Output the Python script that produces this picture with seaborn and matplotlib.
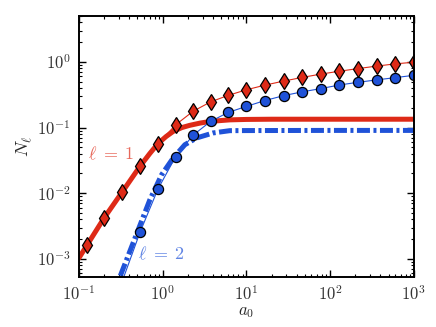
import numpy as np
import pandas as pd
import matplotlib
matplotlib.use("Agg")
import matplotlib.pyplot as plt
from matplotlib.ticker import FuncFormatter
import seaborn as sns

# marker data
a0_pts = [0.125, 0.2, 0.33, 0.54, 0.88, 1.43, 2.31, 3.74, 6.06, 10.0,
          16.7, 27.8, 46.4, 77.4, 129, 215, 359, 599, 1000]
n1_pts = [1.64e-3, 4.23e-3, 1.05e-2, 2.60e-2, 5.68e-2, 0.110, 0.177, 0.246,
          0.309, 0.376, 0.443, 0.510, 0.580, 0.652, 0.721, 0.791, 0.863,
          0.933, 0.99]
a0_pts2 = a0_pts[2:]
n2_pts = [4.6e-4, 2.59e-3, 1.16e-2, 3.60e-2, 0.0766, 0.124, 0.170, 0.210,
          0.258, 0.306, 0.350, 0.392, 0.445, 0.489, 0.532, 0.576, 0.625]

# thick curves
a0_l1 = [0.1, 0.125, 0.2, 0.33, 0.54, 0.7, 0.88, 1.1, 1.34, 1.7, 2.1, 2.8,
         3.7, 5.0, 6.35, 10, 20, 50, 100, 1000]
n_l1 = [1.03e-3, 1.62e-3, 4.2e-3, 1.05e-2, 2.6e-2, 4.0e-2, 5.7e-2, 7.3e-2,
        8.75e-2, 0.100, 0.108, 0.117, 0.124, 0.128, 0.131, 0.133, 0.134,
        0.134, 0.134, 0.134]
a0_l2 = [0.25, 0.309, 0.466, 0.704, 0.972, 1.337, 1.844, 2.543, 4.01, 6.35,
         10, 100, 1000]
n_l2 = [2.6e-4, 5.33e-4, 2.05e-3, 7.96e-3, 0.0191, 0.0344, 0.0548, 0.0694,
        0.0828, 0.0897, 0.090, 0.0905, 0.0905]

red = "#de2a17"
blue = "#1f52d8"

sns.set_style("ticks")
plt.rcParams["mathtext.fontset"] = "cm"
plt.rcParams["font.family"] = ["DejaVu Serif"]
plt.rcParams["xtick.direction"] = "in"
plt.rcParams["ytick.direction"] = "in"

fig = plt.figure(figsize=(4.36, 3.27), dpi=100)
ax = fig.add_axes([0.181, 0.153, 0.768, 0.798])

sns.lineplot(x=a0_l1, y=n_l1, ax=ax, color=red, lw=3.6, sort=False,
             estimator=None)
sns.lineplot(x=a0_l2, y=n_l2, ax=ax, color=blue, lw=3.6, sort=False,
             estimator=None, dashes=False)
ax.lines[-1].set_dashes([2.6, 0.7, 0.6, 0.7])
ax.lines[-1].set_dash_capstyle("butt")

sns.lineplot(x=a0_pts, y=n1_pts, ax=ax, color=red, lw=0.8, marker="d",
             markersize=8.5, markerfacecolor=red, markeredgecolor="k",
             markeredgewidth=0.9, sort=False, estimator=None)
sns.lineplot(x=a0_pts2, y=n2_pts, ax=ax, color=blue, lw=0.8, marker="o",
             markersize=7.3, markerfacecolor=blue, markeredgecolor="k",
             markeredgewidth=0.9, sort=False, estimator=None)

ax.set_xscale("log")
ax.set_yscale("log")
ax.set_xlim(0.1, 1000)
ax.set_ylim(5.3e-4, 5)

pow10 = FuncFormatter(lambda v, pos: r"$10^{%d}$" % round(np.log10(v)))
ax.xaxis.set_major_formatter(pow10)
ax.yaxis.set_major_formatter(pow10)

ax.text(0.241, 0.0386, r"$\ell\;=\;1$", color=red, alpha=0.7, fontsize=13,
        ha="center", va="center")
ax.text(0.98, 1.16e-3, r"$\ell\;=\;2$", color=blue, alpha=0.7, fontsize=13,
        ha="center", va="center")

ax.set_xlabel(r"$a_0$", fontsize=12, labelpad=-1)
ax.set_ylabel(r"$N_\ell$", fontsize=13, labelpad=2)

for s in ax.spines.values():
    s.set_linewidth(1.4)
    s.set_color("k")
ax.tick_params(which="both", top=True, right=True, direction="in",
               labelsize=12, colors="k", labelcolor="#333333")
ax.tick_params(which="major", length=5, width=1.0, pad=6)
ax.tick_params(which="minor", length=2.5, width=0.8)

fig.savefig("out.png", dpi=100)
